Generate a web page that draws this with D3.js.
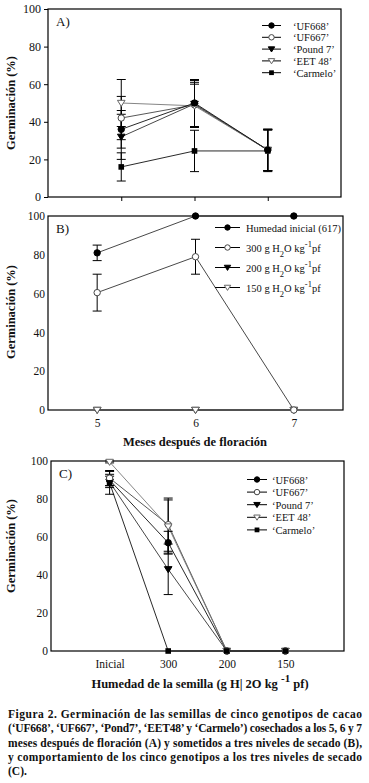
<!DOCTYPE html>
<html lang="es">
<head>
<meta charset="utf-8">
<title>Figura 2 - Germinación</title>
<script src="https://d3js.org/d3.v7.min.js"></script>
<style>
    body { margin: 0; background: white; }
    svg text { font-family: "Liberation Serif", "DejaVu Serif", serif; fill: #111; }
</style>
</head>
<body>
<div id="chart"></div>
<script>
// ---- data ----
// panel A: months after flowering
var monthsA = [5, 6, 7];
var genoNames = ["\u2018UF668\u2019", "\u2018UF667\u2019", "\u2018Pound 7\u2019", "\u2018EET 48\u2019", "\u2018Carmelo\u2019"];
var a_UF668 = [36, 50, 25],   a_UF668_err = [10, 12.5, 11];
var a_UF667 = [42, 49, 25],   a_UF667_err = [11.5, 12, 11];
var a_Pound = [32, 49.5, 25], a_Pound_err = [12, 12.5, 11];
var a_EET   = [50, 48.5, 25], a_EET_err   = [12.5, 11.5, 11];
var a_Carm  = [16, 24.5, 24.5], a_Carm_err = [7.5, 11, 11];

// panel B: drying levels
var monthsB = [5, 6, 7];
var b_ini = [81, 100, 100], b_ini_err = [4, 0, 0];
var b_300 = [60.5, 79, 0],  b_300_err = [9.5, 9, 0];
var b_200 = [0, 0, 0],      b_200_err = [0, 0, 0];
var b_150 = [0, 0, 0],      b_150_err = [0, 0, 0];

// panel C: seed moisture
var moistLabels = ["Inicial", "300", "200", "150"];
var c_UF668 = [90, 57, 0, 0],   c_UF668_err = [3, 6, 0, 0];
var c_UF667 = [91, 66.5, 0, 0], c_UF667_err = [4, 14, 0, 0];
var c_Pound = [89, 43, 0, 0],   c_Pound_err = [3, 13.3, 0, 0];
var c_EET   = [99.5, 65.5, 0, 0], c_EET_err = [0.5, 14, 0, 0];
var c_Carm  = [88.5, 0, 0, 0],  c_Carm_err = [6, 0, 0, 0];

var yTicks = [0, 20, 40, 60, 80, 100];

// marker styles per series
var shapes = ["circleFill", "circleOpen", "triFill", "triOpen", "square"];
var lineCols = ["#111", "#444", "#333", "#777", "#111"];

var W = 369, H = 783;
var svg = d3.select("#chart").append("svg")
    .attr("width", W).attr("height", H);

function drawMarker(g, shape, cx, cy, k) {
    k = k || 1;
    if (shape == "circleFill" || shape == "circleOpen") {
        g.append("circle").attr("cx", cx).attr("cy", cy).attr("r", 3.2 * k)
            .attr("fill", shape == "circleFill" ? "#000" : "#fff")
            .attr("stroke", shape == "circleFill" ? "#000" : "#444").attr("stroke-width", 1);
    } else if (shape == "triFill" || shape == "triOpen") {
        var s = 3.8 * k;
        g.append("path")
            .attr("d", "M" + (cx - s) + "," + (cy - s * 0.7) + "L" + (cx + s) + "," + (cy - s * 0.7) + "L" + cx + "," + (cy + s * 0.9) + "Z")
            .attr("fill", shape == "triFill" ? "#000" : "#fff")
            .attr("stroke", shape == "triFill" ? "#000" : "#666").attr("stroke-width", 1);
    } else {
        var h = 2.8 * k;
        g.append("rect").attr("x", cx - h).attr("y", cy - h).attr("width", 2 * h).attr("height", 2 * h)
            .attr("fill", "#000");
    }
}

function panel(cfg) {
    var g = svg.append("g");
    var x = d3.scaleLinear().domain(cfg.xDomain).range([cfg.left, cfg.right]);
    var y = d3.scaleLinear().domain([0, 100]).range([cfg.bottom, cfg.top]);

    // y axis
    var yAxis = g.append("g").attr("transform", "translate(" + cfg.left + ",0)")
        .call(d3.axisLeft(y).tickValues(yTicks).tickSize(cfg.yTick).tickPadding(3));
    yAxis.select(".domain").remove();
    yAxis.selectAll("text").style("font-size", cfg.tickFont + "px").attr("fill", "#111");

    // x axis
    var xAxis = g.append("g").attr("transform", "translate(0," + cfg.bottom + ")")
        .call(d3.axisBottom(x).tickValues(cfg.xTicks).tickSize(cfg.xTick).tickPadding(cfg.xPad)
            .tickFormat(function (d, i) { return cfg.xLabels ? cfg.xLabels[i] : ""; }));
    xAxis.select(".domain").remove();
    xAxis.selectAll("text").style("font-size", cfg.tickFont + "px").attr("fill", "#111");

    // frame
    g.append("rect").attr("x", cfg.left).attr("y", cfg.top)
        .attr("width", cfg.right - cfg.left).attr("height", cfg.bottom - cfg.top)
        .attr("fill", "none").attr("stroke", "#000").attr("stroke-width", 1.2);

    // panel letter
    g.append("text").attr("x", cfg.left + 8).attr("y", cfg.top + 17)
        .style("font-size", "13px").text(cfg.letter);

    // y title
    g.append("text")
        .attr("transform", "translate(" + cfg.yTitleX + "," + cfg.yTitleY + ") rotate(-90)")
        .attr("text-anchor", "middle")
        .style("font-size", "12.5px").style("font-weight", "bold")
        .text("Germinación (%)");

    // lines
    cfg.series.forEach(function (s) {
        var pts = s.vals.map(function (v, i) { return [cfg.xTicks[i], v]; });
        g.append("path").datum(pts)
            .attr("d", d3.line().x(function (d) { return x(d[0]); }).y(function (d) { return y(d[1]); }))
            .attr("fill", "none").attr("stroke", s.col).attr("stroke-width", 0.9);
    });
    // error bars
    cfg.series.forEach(function (s) {
        s.vals.forEach(function (v, i) {
            var e = s.err[i];
            if (!e) return;
            var cx = x(cfg.xTicks[i]);
            g.append("line").attr("x1", cx).attr("x2", cx).attr("y1", y(v - e)).attr("y2", y(v + e))
                .attr("stroke", "#000").attr("stroke-width", 1);
            [v - e, v + e].forEach(function (c) {
                g.append("line").attr("x1", cx - 4.5).attr("x2", cx + 4.5).attr("y1", y(c)).attr("y2", y(c))
                    .attr("stroke", "#000").attr("stroke-width", 1);
            });
        });
    });
    // markers
    cfg.series.forEach(function (s) {
        s.vals.forEach(function (v, i) {
            drawMarker(g, s.shape, x(cfg.xTicks[i]), y(v));
        });
    });

    // legend
    cfg.legend.items.forEach(function (it, i) {
        var ly = cfg.legend.y + i * cfg.legend.dy;
        g.append("line").attr("x1", cfg.legend.x1).attr("x2", cfg.legend.x2).attr("y1", ly).attr("y2", ly)
            .attr("stroke", "#000").attr("stroke-width", 1);
        drawMarker(g, it.shape, (cfg.legend.x1 + cfg.legend.x2) / 2, ly, 0.85);
        var t = g.append("text").attr("x", cfg.legend.tx).attr("y", ly + 4)
            .style("font-size", cfg.legend.font + "px");
        it.parts.forEach(function (p) {
            var ts = t.append("tspan").text(p.t);
            if (p.sub) ts.attr("baseline-shift", "sub").style("font-size", (cfg.legend.font - 2) + "px");
            if (p.sup) ts.attr("baseline-shift", "super").style("font-size", (cfg.legend.font - 2) + "px");
        });
    });
    return g;
}

var geno = function () {
    return genoNames.map(function (n, i) { return { shape: shapes[i], parts: [{ t: n }] }; });
};

// ---- panel A ----
panel({
    letter: "A)", left: 48, right: 341, top: 9, bottom: 197,
    xDomain: [4, 8], xTicks: monthsA, xLabels: null, xTick: 4, xPad: 2, yTick: 4,
    tickFont: 12, yTitleX: 15, yTitleY: 103,
    series: [
        { vals: a_Carm, err: a_Carm_err, shape: shapes[4], col: lineCols[4] },
        { vals: a_UF667, err: a_UF667_err, shape: shapes[1], col: lineCols[1] },
        { vals: a_Pound, err: a_Pound_err, shape: shapes[2], col: lineCols[2] },
        { vals: a_EET, err: a_EET_err, shape: shapes[3], col: lineCols[3] },
        { vals: a_UF668, err: a_UF668_err, shape: shapes[0], col: lineCols[0] }
    ],
    legend: { x1: 262, x2: 281, tx: 293, y: 25.5, dy: 11.8, font: 10.5, items: geno() }
});

// ---- panel B ----
var h2o = function (n) {
    return [{ t: n + " g H" }, { t: "2", sub: true }, { t: "O kg" }, { t: "-1", sup: true }, { t: "pf" }];
};
panel({
    letter: "B)", left: 48, right: 343, top: 216, bottom: 410,
    xDomain: [4.5, 7.5], xTicks: monthsB, xLabels: ["5", "6", "7"], xTick: 0, xPad: 9, yTick: 0,
    tickFont: 11.5, yTitleX: 15, yTitleY: 312,
    series: [
        { vals: b_200, err: b_200_err, shape: "triFill", col: "#333" },
        { vals: b_150, err: b_150_err, shape: "triOpen", col: "#555" },
        { vals: b_ini, err: b_ini_err, shape: "circleFill", col: "#333" },
        { vals: b_300, err: b_300_err, shape: "circleOpen", col: "#333" }
    ],
    legend: {
        x1: 215, x2: 240, tx: 246, y: 227.5, dy: 20, font: 10.5,
        items: [
            { shape: "circleFill", parts: [{ t: "Humedad inicial (617)" }] },
            { shape: "circleOpen", parts: h2o("300") },
            { shape: "triFill", parts: h2o("200") },
            { shape: "triOpen", parts: h2o("150") }
        ]
    }
});
svg.append("text").attr("x", 195).attr("y", 446).attr("text-anchor", "middle")
    .style("font-size", "12.5px").style("font-weight", "bold")
    .text("Meses después de floración");

// ---- panel C ----
panel({
    letter: "C)", left: 51, right: 344, top: 461, bottom: 651,
    xDomain: [0, 5], xTicks: [1, 2, 3, 4], xLabels: moistLabels, xTick: 0, xPad: 9, yTick: 0,
    tickFont: 11.5, yTitleX: 15, yTitleY: 546,
    series: [
        { vals: c_Pound, err: c_Pound_err, shape: shapes[2], col: lineCols[2] },
        { vals: c_UF668, err: c_UF668_err, shape: shapes[0], col: lineCols[0] },
        { vals: c_UF667, err: c_UF667_err, shape: shapes[1], col: lineCols[1] },
        { vals: c_EET, err: c_EET_err, shape: shapes[3], col: lineCols[3] },
        { vals: c_Carm, err: c_Carm_err, shape: shapes[4], col: lineCols[4] }
    ],
    legend: { x1: 247, x2: 267, tx: 272, y: 479.5, dy: 12.6, font: 10.5, items: geno() }
});
var xt = svg.append("text").attr("x", 200).attr("y", 688).attr("text-anchor", "middle")
    .style("font-size", "12.5px").style("font-weight", "bold");
xt.append("tspan").text("Humedad de la semilla (g H| 2O kg ");
xt.append("tspan").attr("baseline-shift", "super").style("font-size", "11px").text("-1");
xt.append("tspan").text(" pf)");

// ---- caption ----
var caption = [
    "Figura 2. Germinación de las semillas de cinco genotipos de cacao",
    "(\u2018UF668\u2019, \u2018UF667\u2019, \u2018Pond7\u2019, \u2018EET48\u2019 y \u2018Carmelo\u2019) cosechados a los 5, 6 y 7",
    "meses después de floración (A) y sometidos a tres niveles de secado (B),",
    "y comportamiento de los cinco genotipos a los tres niveles de secado",
    "(C)."
];
caption.forEach(function (line, i) {
    var t = svg.append("text").attr("x", 8).attr("y", 718 + i * 14.3)
        .style("font-size", "11.5px").style("font-weight", "bold").text(line);
    if (i < caption.length - 1) t.attr("textLength", 354).attr("lengthAdjust", "spacing");
});
</script>
</body>
</html>
